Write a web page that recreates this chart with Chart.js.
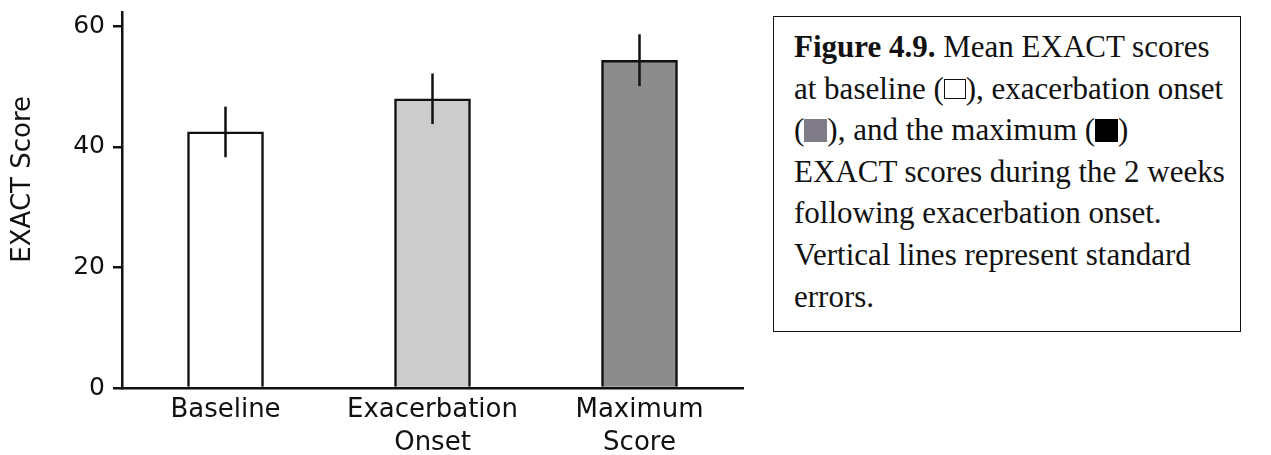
<!DOCTYPE html>
<html>
<head>
<meta charset="utf-8">
<script src="https://cdn.jsdelivr.net/npm/chart.js@4"></script>
<style>
  html, body { margin: 0; padding: 0; background: #fff; }
  body { width: 1271px; height: 455px; position: relative; overflow: hidden; }
  #chartBox { position: absolute; left: 0; top: 0; width: 770px; height: 455px; }
  #caption {
    position: absolute; left: 773px; top: 16px; width: 466px; height: 314px;
    border: 1.5px solid #111; box-sizing: content-box;
    font-family: "Liberation Serif", "Times New Roman", serif; font-size: 31px;
    line-height: 41.6px; color: #111; padding: 0;
  }
  #caption .inner { position: absolute; left: 20px; top: 9px; white-space: nowrap; }
  .sq { display: inline-block; width: 23px; height: 23px; vertical-align: -2px; box-sizing: border-box; }
  .sq.white { border: 1.5px solid #111; width: 22px; height: 20px; vertical-align: 0px; }
  .sq.gray { background: #7f7c88; }
  .sq.black { background: #000; }
</style>
</head>
<body>
<div id="chartBox"><canvas id="exactChart"></canvas></div>
<div id="caption"><div class="inner">
<b>Figure 4.9.</b> Mean EXACT scores<br>
at baseline (<span class="sq white"></span>), exacerbation onset<br>
(<span class="sq gray"></span>), and the maximum (<span class="sq black"></span>)<br>
EXACT scores during the 2 weeks<br>
following exacerbation onset.<br>
Vertical lines represent standard<br>
errors.
</div></div>

<script>
// Datos
const categories = [['Baseline'], ['Exacerbation', 'Onset'], ['Maximum', 'Score']];
const meanScores = [42.5, 48.0, 54.4];
const stdErrors = [4.2, 4.2, 4.3];
const barColors = ['#ffffff', '#cccccc', '#8c8c8c'];
const yTicks = [0, 20, 40, 60];

// Líneas verticales de error estándar
const errorBarsPlugin = {
  id: 'errorBars',
  afterDatasetsDraw(chart) {
    const ctx = chart.ctx;
    const meta = chart.getDatasetMeta(0);
    const yScale = chart.scales.y;
    ctx.save();
    ctx.strokeStyle = '#111';
    ctx.lineWidth = 2.5;
    meta.data.forEach((bar, i) => {
      const top = yScale.getPixelForValue(meanScores[i] + stdErrors[i]);
      const bottom = yScale.getPixelForValue(meanScores[i] - stdErrors[i]);
      ctx.beginPath();
      ctx.moveTo(bar.x, top);
      ctx.lineTo(bar.x, bottom);
      ctx.stroke();
    });
    ctx.restore();
  }
};

const ctx = document.getElementById('exactChart').getContext('2d');
const chart = new Chart(ctx, {
  type: 'bar',
  data: {
    labels: categories,
    datasets: [{
      data: meanScores,
      backgroundColor: barColors,
      borderColor: '#111',
      borderWidth: 2.5,
      barThickness: 76
    }]
  },
  options: {
    responsive: true,
    maintainAspectRatio: false,
    animation: false,
    layout: { padding: { top: 12, right: 27, left: 0, bottom: 0 } },
    plugins: {
      legend: { display: false },
      tooltip: { enabled: false }
    },
    scales: {
      x: {
        grid: { display: false },
        border: { display: true, color: '#111', width: 2.5 },
        ticks: {
          color: '#111',
          padding: -3,
          maxRotation: 0,
          font: { family: 'DejaVu Sans', size: 26, lineHeight: 1.3 }
        },
        afterFit(scale) { scale.height = 67; }
      },
      y: {
        min: 0,
        max: 62.4,
        afterBuildTicks(scale) { scale.ticks = yTicks.map(v => ({ value: v })); },
        grid: {
          drawOnChartArea: false,
          drawTicks: true,
          tickLength: 9,
          color: '#111',
          lineWidth: 2.5
        },
        border: { display: true, color: '#111', width: 2.5 },
        ticks: {
          color: '#111',
          padding: 8,
          font: { family: 'DejaVu Sans', size: 25 }
        },
        title: {
          display: true,
          // espacios al inicio para subir el título como en el original
          text: '\u00a0\u00a0\u00a0\u00a0\u00a0EXACT Score',
          color: '#111',
          padding: { top: 8, bottom: 0 },
          font: { family: 'DejaVu Sans', size: 26 }
        },
        afterFit(scale) {
          scale.width = 122;
          scale.paddingTop = 0;
          scale.paddingBottom = 0;
        }
      }
    }
  },
  plugins: [errorBarsPlugin]
});
</script>
</body>
</html>
